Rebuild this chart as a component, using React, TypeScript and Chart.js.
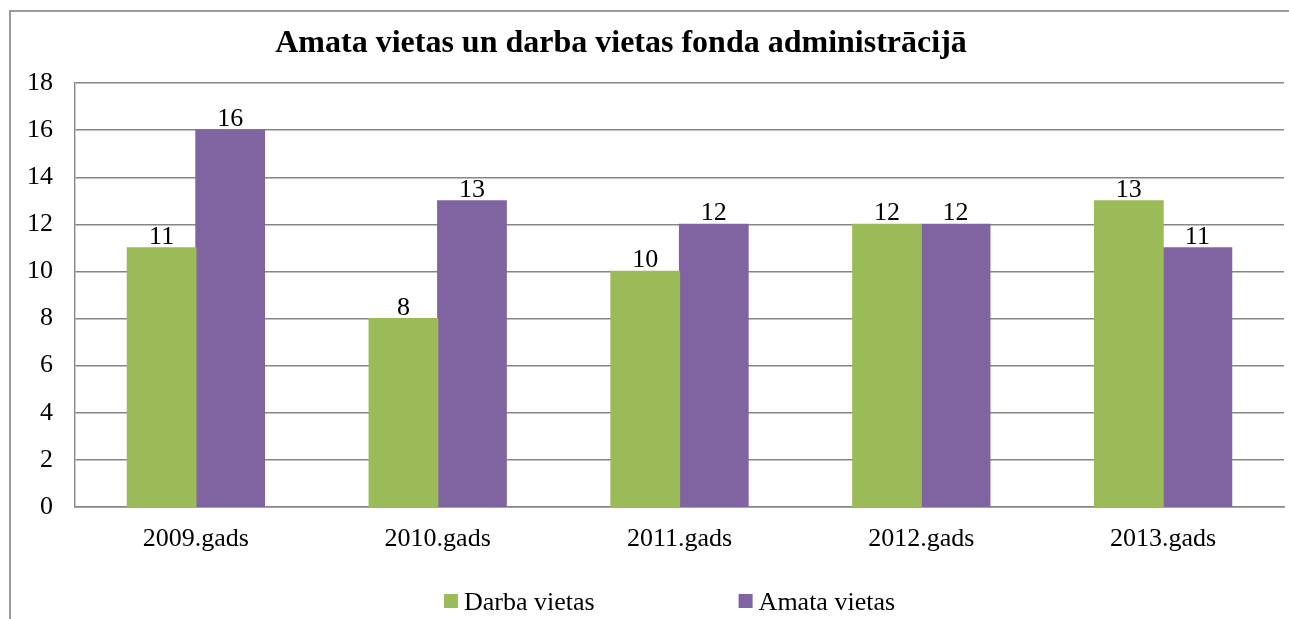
import React, { useEffect, useRef } from "react";
import { Chart, registerables } from "chart.js";

Chart.register(...registerables);

const categories = ["2009.gads", "2010.gads", "2011.gads", "2012.gads", "2013.gads"];
const darbaVietas = [11, 8, 10, 12, 13];
const amataVietas = [16, 13, 12, 12, 11];
const seriesNames = ["Darba vietas", "Amata vietas"];
const seriesColors = ["#9BBB59", "#8064A2"];
const titleText = "Amata vietas un darba vietas fonda administrācijā";

const FONT = "'Liberation Serif', 'Times New Roman', serif";

const overlayPlugin = {
  id: "overlay",
  afterDatasetsDraw(chart: any) {
    const ctx = chart.ctx;
    ctx.save();
    // data labels
    ctx.font = `26px ${FONT}`;
    ctx.fillStyle = "#000";
    ctx.textAlign = "center";
    ctx.textBaseline = "alphabetic";
    chart.data.datasets.forEach((ds: any, i: number) => {
      const meta = chart.getDatasetMeta(i);
      meta.data.forEach((bar: any, j: number) => {
        ctx.fillText(String(ds.data[j]), bar.x, bar.y - 4);
      });
    });
    // title
    ctx.font = `bold 32px ${FONT}`;
    ctx.fillText(titleText, 621, 52);
    // legend
    ctx.font = `26px ${FONT}`;
    ctx.textAlign = "left";
    const box = 14;
    const gapText = 6;
    const gapItems = 144;
    const widths = seriesNames.map((n) => ctx.measureText(n).width);
    const total = widths.reduce((a, w) => a + box + gapText + w, 0) + gapItems * (seriesNames.length - 1);
    const cx = (chart.chartArea.left + chart.chartArea.right) / 2 - 10;
    let x = cx - total / 2;
    const baseY = 610;
    seriesNames.forEach((n, i) => {
      ctx.fillStyle = seriesColors[i];
      ctx.fillRect(x, baseY - 16, box, box);
      ctx.fillStyle = "#000";
      ctx.fillText(n, x + box + gapText, baseY);
      x += box + gapText + widths[i] + gapItems;
    });
    ctx.restore();
  },
};

export default function App() {
  const ref = useRef<HTMLCanvasElement>(null);
  useEffect(() => {
    if (!ref.current) return;
    const chart = new Chart(ref.current, {
      type: "bar",
      data: {
        labels: categories,
        datasets: [
          { label: seriesNames[0], data: darbaVietas, backgroundColor: seriesColors[0], borderWidth: 0, inflateAmount: 0.6, barPercentage: 1, categoryPercentage: 0.567 },
          { label: seriesNames[1], data: amataVietas, backgroundColor: seriesColors[1], borderWidth: 0, inflateAmount: 0.6, barPercentage: 1, categoryPercentage: 0.567 },
        ],
      },
      options: {
        animation: false,
        responsive: false,
        maintainAspectRatio: false,
        layout: { padding: { top: 83, left: 0, right: 5, bottom: 0 } },
        plugins: {
          legend: { display: false },
          title: { display: false },
          tooltip: { enabled: false },
        },
        scales: {
          x: {
            grid: { display: false, drawTicks: false },
            border: { display: true, color: "#868686", width: 1.4 },
            ticks: { font: { family: FONT, size: 26 }, color: "#000", padding: 17, maxRotation: 0 },
            afterFit: (s: any) => { s.height = 112; },
          },
          y: {
            min: 0,
            max: 18,
            ticks: { stepSize: 2, font: { family: FONT, size: 26 }, color: "#000", padding: 22 },
            grid: { color: "#868686", drawTicks: false, lineWidth: 1.4 },
            border: { display: true, color: "#868686", width: 1.4 },
            afterFit: (s: any) => { s.width = 75; },
          },
        },
      },
      plugins: [overlayPlugin],
    } as any);
    return () => chart.destroy();
  }, []);

  return (
    <div style={{ position: "fixed", left: 0, top: 0, width: 1289, height: 619, overflow: "hidden", background: "#fff" }}>
      <div style={{ position: "absolute", left: 9, top: 10, width: 1300, height: 700, border: "2px solid #9a9a9a", boxSizing: "border-box" }} />
      <canvas ref={ref} width={1289} height={619} style={{ position: "absolute", left: 0, top: 0, width: 1289, height: 619 }} />
    </div>
  );
}
